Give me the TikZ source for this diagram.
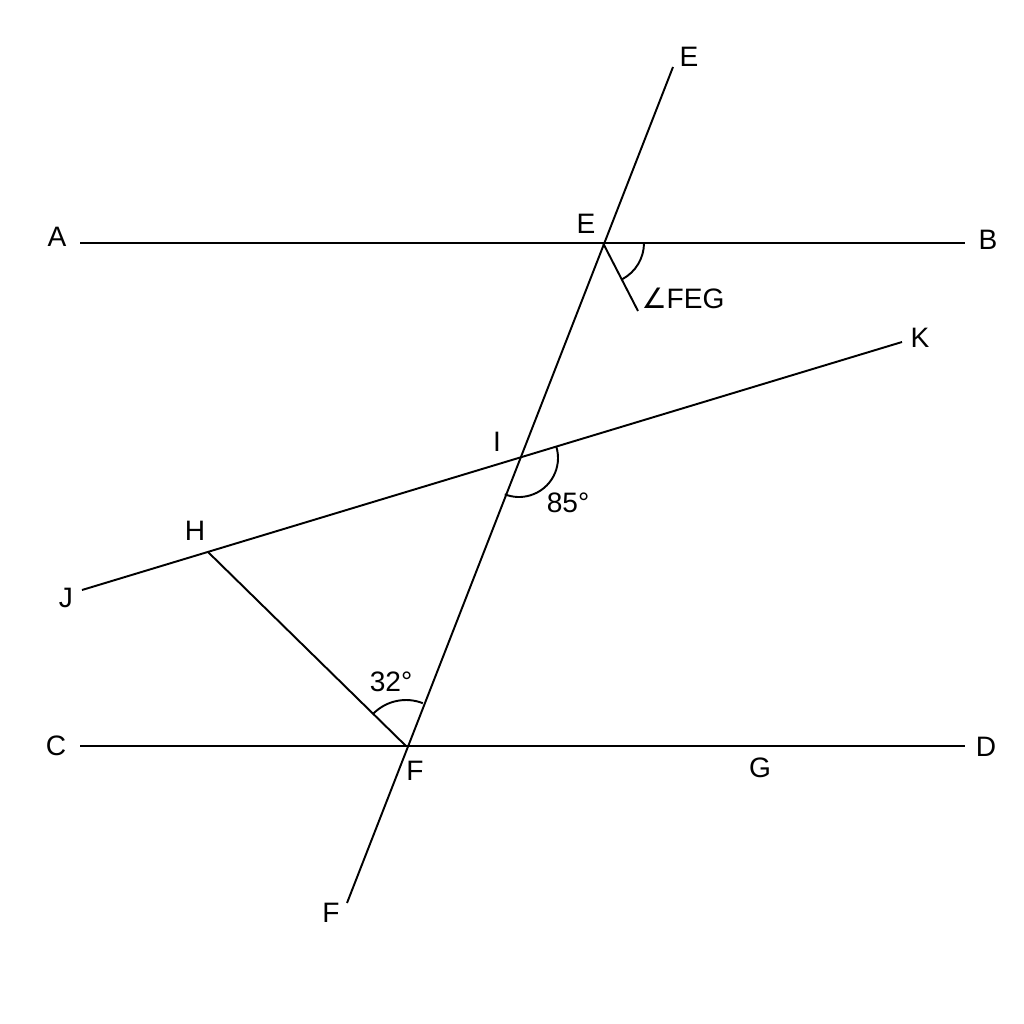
\documentclass[tikz,border=0pt]{standalone}
\usepackage{fontspec}
\setmainfont{Liberation Sans}
\newfontfamily\symfont{DejaVu Sans}
\begin{document}
\begin{tikzpicture}[x=0.02cm,y=-0.02cm,line width=1.1pt,
  lbl/.style={font=\fontsize{16}{19}\selectfont,inner sep=0pt}]
  \useasboundingbox (0,0) rectangle (1024,1024);
  % points
  \coordinate (A) at (80,243); \coordinate (B) at (965,243);
  \coordinate (C) at (80,746); \coordinate (D) at (965,746);
  \coordinate (Etop) at (673,67); \coordinate (Fbot) at (347,903);
  \coordinate (E) at (603,243); \coordinate (F) at (406,746);
  \coordinate (J) at (82,590); \coordinate (K) at (902,342);
  \coordinate (I) at (519,458); \coordinate (H) at (208,552);
  \coordinate (G) at (638,311);
  % lines
  \draw (A)--(B);
  \draw (C)--(D);
  \draw (Etop)--(Fbot);
  \draw (J)--(K);
  \draw (H)--(F);
  \draw (E)--(G);
  % angle arcs
  \draw (E) ++(0:41) arc[start angle=0,end angle=62,radius=41];
  \draw (I) ++(-16.8:39) arc[start angle=-16.8,end angle=111.4,radius=39];
  \draw (F) ++(-134.9:46) arc[start angle=-134.9,end angle=-68.6,radius=46];
  % labels
  \node[lbl] (lA) at (57,237) {A};
  \node[lbl] (lB) at (988,240) {B};
  \node[lbl] (lC) at (56,746) {C};
  \node[lbl] (lD) at (986,747) {D};
  \node[lbl] (lEtop) at (689,57) {E};
  \node[lbl] (lE) at (586,224) {E};
  \node[lbl] (lI) at (497,442) {I};
  \node[lbl] (lH) at (195,531) {H};
  \node[lbl] (lJ) at (66,598) {J};
  \node[lbl] (lK) at (920,338) {K};
  \node[lbl] (lF) at (415,771) {F};
  \node[lbl] (lG) at (760,768) {G};
  \node[lbl] (lFbot) at (331,913) {F};
  \node[lbl] (lFEG) at (683,298) {{\symfont ∠}FEG};
  \node[lbl] (l85) at (568,503) {85°};
  \node[lbl] (l32) at (391,682) {32°};
\end{tikzpicture}
\end{document}
